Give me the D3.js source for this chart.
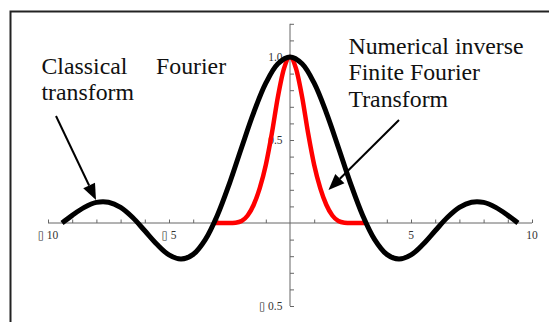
<!DOCTYPE html>
<html>
<head>
<meta charset="utf-8">
<script src="https://cdn.jsdelivr.net/npm/d3@7"></script>
<style>
  html, body { margin: 0; padding: 0; background: #fff; }
  svg { display: block; }
</style>
</head>
<body>
<svg id="chart" width="549" height="322"></svg>
<script>
// ---- data ----
const classicalX = [-9.42, -9, -8.5, -8, -7.5, -7, -6.5, -6, -5.5, -5, -4.5, -4, -3.5, -3, -2.5, -2, -1.5, -1, -0.5,
                    0, 0.5, 1, 1.5, 2, 2.5, 3, 3.5, 4, 4.5, 5, 5.5, 6, 6.5, 7, 7.5, 8, 8.5, 9, 9.42];
const classicalY = [0, 0.046, 0.094, 0.124, 0.125, 0.094, 0.033, -0.047, -0.128, -0.192, -0.217, -0.189, -0.100, 0.047, 0.239, 0.455, 0.665, 0.842, 0.959,
                    1.0, 0.959, 0.842, 0.665, 0.455, 0.239, 0.047, -0.100, -0.189, -0.217, -0.192, -0.128, -0.047, 0.033, 0.094, 0.125, 0.124, 0.094, 0.046, 0];

const numericX = [-3.1, -2.5, -2.25, -2, -1.75, -1.5, -1.25, -1, -0.75, -0.5, -0.25, 0, 0.25, 0.5, 0.75, 1, 1.25, 1.5, 1.75, 2, 2.25, 2.5, 3.1];
const numericY = [0, 0, 0.002, 0.012, 0.045, 0.11, 0.21, 0.35, 0.54, 0.76, 0.93, 1.0, 0.93, 0.76, 0.54, 0.35, 0.21, 0.11, 0.045, 0.012, 0.002, 0, 0];

const xTickValues = [-10, -9, -8, -7, -6, -5, -4, -3, -2, -1, 1, 2, 3, 4, 5, 6, 7, 8, 9, 10];
const xTickLabels = { "-10": "\u25AF 10", "-5": "\u25AF 5", "5": "5", "10": "10" };
const yTickValues = [-0.5, -0.4, -0.3, -0.2, -0.1, 0.1, 0.2, 0.3, 0.4, 0.5, 0.6, 0.7, 0.8, 0.9, 1.0, 1.1, 1.2];
const yTickLabels = { "1": "1.0", "0.5": "0.5", "-0.5": "\u25AF 0.5" };

const leftNote = ["Classical", "Fourier", "transform"];
const rightNote = ["Numerical inverse", "Finite Fourier", "Transform"];

// ---- drawing ----
const FONT = "'Liberation Serif', 'Times New Roman', Times, 'DejaVu Serif', serif";
const svg = d3.select("#chart").attr("font-family", FONT);

// frame (extends past the right and bottom edges)
svg.append("rect")
  .attr("x", 10.5).attr("y", 11.5)
  .attr("width", 560).attr("height", 330)
  .attr("fill", "none").attr("stroke", "#222").attr("stroke-width", 2);

const x = d3.scaleLinear().domain([-10, 10]).range([48, 532]);
const y = d3.scaleLinear().domain([-0.5, 1.2]).range([306, 23.8]);

const axisColor = "#666";

// x axis (ticks pointing up)
const gx = svg.append("g").attr("transform", `translate(0,${y(0)})`);
gx.call(d3.axisTop(x).tickValues(xTickValues).tickSize(3.5).tickSizeOuter(0).tickFormat(() => ""));
gx.attr("font-family", FONT);
gx.select(".domain").attr("stroke", axisColor).attr("d", `M${x(-10)},0H${x(10)}`);
gx.selectAll(".tick line").attr("stroke", axisColor);
gx.selectAll(".tick text").remove();
Object.keys(xTickLabels).forEach(k => {
  svg.append("text")
    .attr("x", x(+k)).attr("y", y(0) + 16)
    .attr("text-anchor", "middle")
    .attr("font-family", FONT)
    .attr("font-size", 11.5).attr("fill", "#333")
    .attr("xml:space", "preserve")
    .text(xTickLabels[k]);
});

// y axis (ticks pointing right)
const gy = svg.append("g").attr("transform", `translate(${x(0)},0)`);
gy.call(d3.axisRight(y).tickValues(yTickValues).tickSize(4).tickSizeOuter(0).tickFormat(() => ""));
gy.select(".domain").attr("stroke", axisColor).attr("d", `M0,${y(1.2)}V${y(-0.5)}`);
gy.selectAll(".tick line").attr("stroke", axisColor);
gy.selectAll(".tick text").remove();
Object.keys(yTickLabels).forEach(k => {
  svg.append("text")
    .attr("x", x(0) - 7.5).attr("y", y(+k) + 4)
    .attr("text-anchor", "end")
    .attr("font-family", FONT)
    .attr("font-size", 11.5).attr("fill", "#333")
    .text(yTickLabels[k]);
});

// curves
const line = d3.line().x(d => x(d[0])).y(d => y(d[1])).curve(d3.curveCatmullRom);
const lineLin = d3.line().x(d => x(d[0])).y(d => y(d[1])).curve(d3.curveMonotoneX);

svg.append("path")
  .datum(numericX.map((v, i) => [v, numericY[i]]))
  .attr("d", lineLin)
  .attr("fill", "none").attr("stroke", "#ff0000").attr("stroke-width", 4.5)
  .attr("stroke-linejoin", "round");

svg.append("path")
  .datum(classicalX.map((v, i) => [v, classicalY[i]]))
  .attr("d", line)
  .attr("fill", "none").attr("stroke", "#000").attr("stroke-width", 5)
  .attr("stroke-linejoin", "round");

// annotations
function note(t, xx, yy) {
  svg.append("text").attr("x", xx).attr("y", yy)
    .attr("font-family", FONT)
    .attr("font-size", 23.8).attr("fill", "#111").text(t);
}
note(leftNote[0], 41.5, 73.5);
note(leftNote[1], 156, 73.5);
note(leftNote[2], 41.5, 100);
rightNote.forEach((t, i) => note(t, 348.5, 53.5 + i * 26.7));

// arrows
function arrow(x1, y1, x2, y2) {
  const ang = Math.atan2(y2 - y1, x2 - x1);
  const L = 16, W = 6.5;
  const bx = x2 - L * Math.cos(ang), by = y2 - L * Math.sin(ang);
  svg.append("line")
    .attr("x1", x1).attr("y1", y1).attr("x2", bx).attr("y2", by)
    .attr("stroke", "#000").attr("stroke-width", 2);
  const px = -Math.sin(ang) * W, py = Math.cos(ang) * W;
  svg.append("path")
    .attr("d", `M${x2},${y2}L${bx + px},${by + py}L${bx - px},${by - py}Z`)
    .attr("fill", "#000");
}
arrow(56, 116, 96, 200);
arrow(399, 120, 328.5, 190);
</script>
</body>
</html>
